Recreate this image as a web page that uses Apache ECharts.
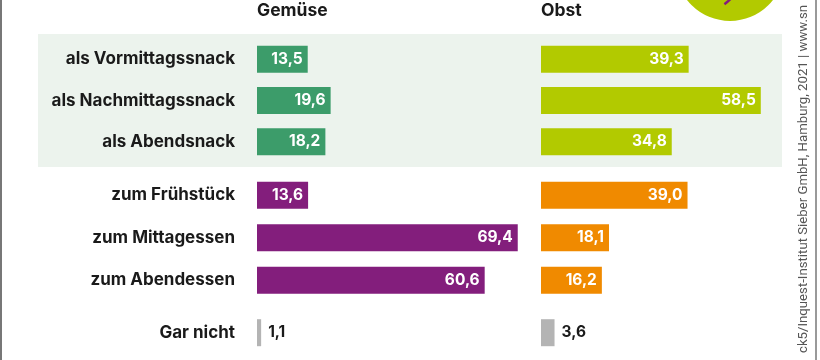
<!DOCTYPE html>
<html>
<head>
<meta charset="utf-8">
<style>html,body{margin:0;padding:0;background:#fff}#c{width:820px;height:360px}</style>
<script src="https://cdn.jsdelivr.net/npm/echarts@6/dist/echarts.min.js"></script>
</head>
<body>
<div id="c"></div>
<script>
var columnTitles = ['Gemüse', 'Obst'];
var categoriesSnack = ['als Vormittagssnack', 'als Nachmittagssnack', 'als Abendsnack'];
var categoriesMeal = ['zum Frühstück', 'zum Mittagessen', 'zum Abendessen'];
var categoriesNone = ['Gar nicht'];
var gemueseSnack = [13.5, 19.6, 18.2];
var obstSnack = [39.3, 58.5, 34.8];
var gemueseMeal = [13.6, 69.4, 60.6];
var obstMeal = [39.0, 18.1, 16.2];
var gemueseNone = [1.1];
var obstNone = [3.6];
var sourceText = 'ck5/Inquest-Institut Sieber GmbH, Hamburg, 2021 | www.sn';

var FONT = 'Inter';
var chart = echarts.init(document.getElementById('c'), null, {renderer: 'canvas'});

var rows = [
  {top: 38.5, height: 124, cats: categoriesSnack, g: gemueseSnack, o: obstSnack, cg: '#3C9C6A', co: '#B2CA00', inside: true},
  {top: 174, height: 127.5, cats: categoriesMeal, g: gemueseMeal, o: obstMeal, cg: '#831E7C', co: '#F08A00', inside: true},
  {top: 312, height: 41.4, cats: categoriesNone, g: gemueseNone, o: obstNone, cg: '#B4B4B4', co: '#B4B4B4', inside: false}
];
var colLeft = [257, 541];
var grids = [], xAxes = [], yAxes = [], series = [];
function fmt(p) { return p.value.toFixed(1).replace('.', ','); }
rows.forEach(function (r, ri) {
  [0, 1].forEach(function (ci) {
    var idx = grids.length;
    grids.push({left: colLeft[ci], top: r.top, height: r.height, width: 263, containLabel: false});
    xAxes.push({type: 'value', gridIndex: idx, min: 0, max: 70, show: false});
    yAxes.push({
      type: 'category', gridIndex: idx, data: r.cats, inverse: true,
      axisLine: {show: false}, axisTick: {show: false}, splitLine: {show: false},
      axisLabel: {show: ci === 0, margin: 22, fontFamily: FONT, fontSize: 17, fontWeight: 'bold', color: '#1a1a1a'}
    });
    series.push({
      type: 'bar', xAxisIndex: idx, yAxisIndex: idx, barWidth: 27,
      data: ci === 0 ? r.g : r.o,
      itemStyle: {color: ci === 0 ? r.cg : r.co},
      label: {
        show: true, position: r.inside ? 'insideRight' : 'right', distance: r.inside ? 5 : 7,
        formatter: fmt, fontFamily: FONT, fontSize: 15.5, fontWeight: 'bold',
        color: r.inside ? '#ffffff' : '#1a1a1a'
      },
      silent: true, animation: false
    });
  });
});

chart.setOption({
  animation: false,
  grid: grids, xAxis: xAxes, yAxis: yAxes, series: series,
  graphic: [
    {type: 'rect', z: -10, silent: true, shape: {x: 38, y: 34, width: 744, height: 133}, style: {fill: '#ECF3ED'}},
    {type: 'circle', z: -5, shape: {cx: 730, cy: -33.5, r: 54.5}, style: {fill: '#B2CA00'}},
    {type: 'arc', z: -4, shape: {cx: 700, cy: -30, r: 42, startAngle: 0.35, endAngle: 0.95, clockwise: true}, style: {stroke: '#831E7C', lineWidth: 2.5, fill: null}},
    {type: 'line', shape: {x1: 1, y1: 0, x2: 1, y2: 360}, style: {stroke: '#777', lineWidth: 2}},
    {type: 'line', shape: {x1: 816, y1: 0, x2: 816, y2: 360}, style: {stroke: '#777', lineWidth: 1.5}},
    {type: 'text', x: colLeft[0], y: 11, style: {text: columnTitles[0], fontFamily: FONT, fontSize: 17.5, fontWeight: 'bold', fill: '#1a1a1a', verticalAlign: 'middle'}},
    {type: 'text', x: colLeft[1], y: 11, style: {text: columnTitles[1], fontFamily: FONT, fontSize: 17.5, fontWeight: 'bold', fill: '#1a1a1a', verticalAlign: 'middle'}},
    {type: 'text', x: 803.5, y: 179, rotation: Math.PI / 2, style: {text: sourceText, fontFamily: 'Roboto', fontSize: 13.2, fill: '#555', align: 'center', verticalAlign: 'middle'}}
  ]
});
</script>
</body>
</html>
